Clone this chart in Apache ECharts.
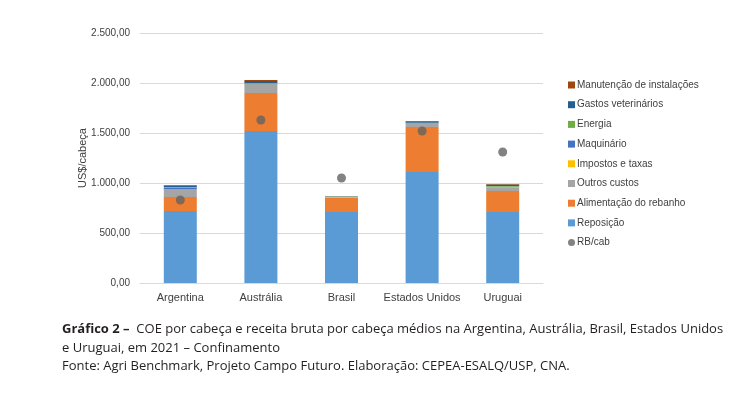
<!DOCTYPE html>
<html>
<head>
<meta charset="utf-8">
<script src="https://cdn.jsdelivr.net/npm/echarts@6/dist/echarts.min.js"></script>
<style>
html, body { margin: 0; padding: 0; background: #fff; }
#chart { width: 737px; height: 399px; }
</style>
</head>
<body>
<div id="chart"></div>
<script>
// categorias (países)
const paises = ["Argentina", "Austrália", "Brasil", "Estados Unidos", "Uruguai"];
// componentes do COE, de baixo para cima
const reposicao = [720, 1520, 710, 1110, 710];
const alimentacao = [140, 380, 140, 450, 210];
const outrosCustos = [70, 80, 8, 30, 35];
const impostos = [5, 5, 5, 3, 3];
const maquinario = [20, 10, 3, 5, 5];
const energia = [5, 5, 2, 5, 7];
const veterinarios = [15, 20, 2, 15, 15];
const manutencao = [5, 10, 0, 2, 5];
// receita bruta por cabeça
const rbCab = [830, 1630, 1050, 1520, 1310];
// eixo y
const yMin = 0, yMax = 2500, yStep = 500;

const dom = document.getElementById("chart");
const myChart = echarts.init(dom);

const fonte = "Liberation Sans, Arial, sans-serif";
//camadas empilhadas
const camadas = [
	{ name: "Reposição", data: reposicao, color: "#5b9bd5" },
	{ name: "Alimentação do rebanho", data: alimentacao, color: "#ed7d31" },
	{ name: "Outros custos", data: outrosCustos, color: "#a5a5a5" },
	{ name: "Impostos e taxas", data: impostos, color: "#ffc000" },
	{ name: "Maquinário", data: maquinario, color: "#4472c4" },
	{ name: "Energia", data: energia, color: "#70ad47" },
	{ name: "Gastos veterinários", data: veterinarios, color: "#255e91" },
	{ name: "Manutenção de instalações", data: manutencao, color: "#9e480e" }
];

function formatBR(v) {
	let s = v.toFixed(2).split(".");
	let inteiro = s[0].replace(/\B(?=(\d{3})+(?!\d))/g, ".");
	return inteiro + "," + s[1];
}

const series = camadas.map(function(c) {
	return {
		name: c.name,
		type: "bar",
		stack: "coe",
		barWidth: 33,
		itemStyle: { color: c.color },
		data: c.data
	};
});
series.push({
	name: "RB/cab",
	type: "scatter",
	symbol: "circle",
	symbolSize: 9,
	itemStyle: { color: "#636363" },
	data: rbCab,
	z: 5
});

//legenda em ordem inversa (estilo Excel)
const legendData = camadas.slice().reverse().map(function(c) {
	return { name: c.name, icon: "rect" };
});
legendData.push({ name: "RB/cab", icon: "circle" });

const option = {
	animation: false,
	backgroundColor: "#fff",
	grid: { left: 140, right: 194, top: 33, bottom: 116 },
	legend: {
		orient: "vertical",
		left: 563,
		top: 75,
		itemWidth: 7,
		itemHeight: 7,
		itemGap: 9.7,
		textStyle: { fontFamily: fonte, fontSize: 10, color: "#404040", padding: [0, 0, 0, -3] },
		data: legendData
	},
	xAxis: {
		type: "category",
		data: paises,
		axisLine: { lineStyle: { color: "#d9d9d9" } },
		axisTick: { show: false },
		axisLabel: { fontFamily: fonte, fontSize: 11, color: "#404040", margin: 9, interval: 0 }
	},
	yAxis: {
		type: "value",
		min: yMin,
		max: yMax,
		interval: yStep,
		name: "US$/cabeça",
		nameLocation: "middle",
		nameGap: 52,
		nameMoveOverlap: false,
		nameTextStyle: { fontFamily: fonte, fontSize: 11, color: "#404040" },
		axisLine: { show: false },
		axisTick: { show: false },
		splitLine: { lineStyle: { color: "#d9d9d9" } },
		axisLabel: {
			fontFamily: fonte, fontSize: 10, color: "#404040", margin: 10,
			formatter: formatBR
		}
	},
	graphic: [
		{
			type: "text",
			left: 62,
			top: 323,
			style: {
				text: "{b|Gráfico 2 –}  COE por cabeça e receita bruta por cabeça médios na Argentina, Austrália, Brasil, Estados Unidos",
				rich: {
					b: { fontFamily: "Open Sans, sans-serif", fontWeight: "bold", fontSize: 13, fill: "#231f20" }
				},
				fontFamily: "Open Sans, sans-serif",
				fontSize: 13,
				fill: "#231f20"
			}
		},
		{
			type: "text",
			left: 62,
			top: 342,
			style: {
				text: "e Uruguai, em 2021 – Confinamento",
				fontFamily: "Open Sans, sans-serif",
				fontSize: 13,
				fill: "#231f20"
			}
		},
		{
			type: "text",
			left: 62,
			top: 360,
			style: {
				text: "Fonte: Agri Benchmark, Projeto Campo Futuro. Elaboração: CEPEA-ESALQ/USP, CNA.",
				fontFamily: "Open Sans, sans-serif",
				fontSize: 13,
				fill: "#231f20"
			}
		}
	],
	series: series
};

myChart.setOption(option);
</script>
</body>
</html>
